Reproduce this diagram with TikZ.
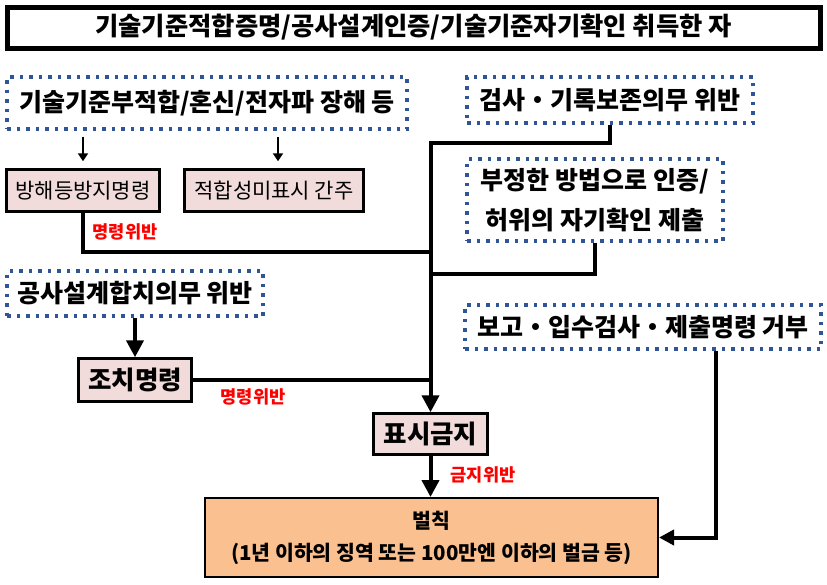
\documentclass[tikz,border=0pt]{standalone}
\usepackage{fontspec}
\setmainfont{Noto Sans CJK KR}
\usetikzlibrary{arrows.meta, positioning}
\definecolor{dotblue}{HTML}{2F5597}
\definecolor{cmdpink}{HTML}{F2DCDB}
\definecolor{penorange}{HTML}{FAC090}
\tikzset{
  titlebox/.style={draw, line width=5pt, minimum width=813pt, minimum height=41pt, inner sep=0pt,
    font=\bfseries\fontsize{25.3}{29}\selectfont},
  srcbox/.style={draw=dotblue, line width=3.5pt, dash pattern=on 3.5pt off 6pt, inner sep=0pt,
    align=center, font=\bfseries\fontsize{25}{40}\selectfont},
  cmdbox/.style={draw, fill=cmdpink, line width=2.5pt, inner sep=0pt, font=\fontsize{21}{24}\selectfont},
  bigcmd/.style={cmdbox, font=\bfseries\fontsize{25.5}{29}\selectfont},
  penbox/.style={draw, fill=penorange, line width=2pt, inner sep=0pt, align=center,
    font=\bfseries\fontsize{20.5}{32}\selectfont},
  link/.style={line width=4pt},
  thinlink/.style={line width=2pt, -{Triangle[width=10pt,length=8pt]}},
  warn/.style={text=red, font=\bfseries\fontsize{17.6}{20}\selectfont},
}
\begin{document}
\begin{tikzpicture}[x=1pt, y=-1pt, >={Triangle[width=17pt,length=17pt]}]
  \useasboundingbox (0,0) rectangle (827,584);

  % title
  \node[titlebox] (title) at (413.5,27.5) {기술기준적합증명/공사설계인증/기술기준자기확인 취득한 자};

  % causes
  \node[srcbox, minimum width=400pt, minimum height=52pt] (src1) at (207,103) {기술기준부적합/혼신/전자파 장해 등};
  \node[srcbox, minimum width=286pt, minimum height=46pt] (src2) at (610,100) {검사・기록보존의무 위반};
  \node[srcbox, minimum width=256pt, minimum height=82pt] (src3) at (595,200) {부정한 방법으로 인증/\\허위의 자기확인 제출};
  \node[srcbox, minimum width=256pt, minimum height=45pt] (src4) at (135,293.5) {공사설계합치의무 위반};
  \node[srcbox, minimum width=356pt, minimum height=44pt] (src5) at (643,327) {보고・입수검사・제출명령 거부};

  % orders
  \node[cmdbox, minimum width=153pt, minimum height=42pt] (cmd1) at (83,190.5) {방해등방지명령};
  \node[cmdbox, minimum width=179pt, minimum height=42pt] (deem) at (274,190.5) {적합성미표시 간주};
  \node[bigcmd, minimum width=113pt, minimum height=43pt] (cmd2) at (135,380) {조치명령};
  \node[bigcmd, minimum width=114pt, minimum height=41pt] (ban) at (430.5,434) {표시금지};
  \node[penbox, minimum width=453pt, minimum height=79pt] (penalty) at (431.5,537.5) {벌칙\\(1년 이하의 징역 또는 100만엔 이하의 벌금 등)};

  % junctions on the trunk
  \coordinate (top) at (430.5,143);
  \coordinate (m1) at (430.5,252);
  \coordinate (m2) at (430.5,274);
  \coordinate (m3) at (430.5,380);

  \draw[thinlink, shorten <=6pt, shorten >=7pt] (cmd1.north |- src1.south) -- (cmd1.north);
  \draw[thinlink, shorten <=6pt, shorten >=7pt] ([xshift=4pt]deem.north |- src1.south) -- ([xshift=4pt]deem.north);

  \draw[link, ->] (src2.south) |- (top) -- (ban.north);
  \draw[link] (cmd1.south) |- (m1);
  \draw[link] (src3.south) |- (m2);
  \draw[link] (cmd2.east) -- (m3);
  \draw[link, ->] (src4.south) -- (cmd2.north);
  \draw[link, ->] (ban.south) -- (ban.south |- penalty.north);
  \draw[link, -{Triangle[width=15pt,length=15pt]}] ([xshift=73pt]src5.south) |- (penalty.east);

  % labels
  \node[warn] (w1) at (125,232) {명령위반};
  \node[warn] (w2) at (253,397) {명령위반};
  \node[warn] (w3) at (483,475) {금지위반};
\end{tikzpicture}
\end{document}
